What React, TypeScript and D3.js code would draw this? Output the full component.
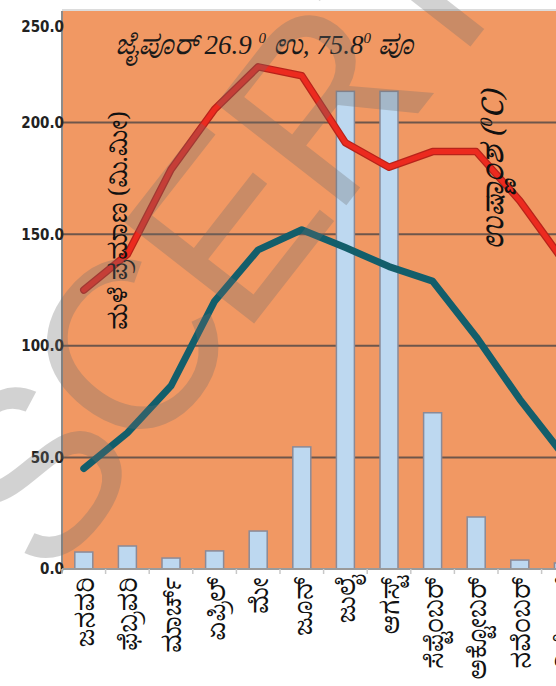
import React, { useRef, useEffect } from 'react';
import * as d3 from 'd3';

const months = [
  'ಜನವರಿ', 'ಫೆಬ್ರವರಿ', 'ಮಾರ್ಚ್', 'ಏಪ್ರಿಲ್', 'ಮೇ', 'ಜೂನ್',
  'ಜುಲೈ', 'ಆಗಸ್ಟ್', 'ಸೆಪ್ಟೆಂಬರ್', 'ಅಕ್ಟೋಬರ್', 'ನವೆಂಬರ್', 'ಡಿಸೆಂಬರ್',
];
const rainfall = [7.6, 10.3, 4.9, 8.1, 17, 54.7, 214, 214, 70, 23.3, 4, 2.7];
const maxTemp = [125, 141, 179, 206, 225, 221, 191, 180, 187, 187, 165, 138];
const minTemp = [45, 61, 82, 120, 143, 152, 144, 135.5, 129, 104, 76, 51];
const yTicks = [0, 50, 100, 150, 200, 250];

const W = 556;
const H = 686;

const App: React.FC = () => {
  const svgRef = useRef<SVGSVGElement>(null);

  useEffect(() => {
    if (!svgRef.current) return;
    const svg = d3.select(svgRef.current);
    svg.selectAll('*').remove();

    const left = 62;
    const top = 11;
    const bottom = 569;
    const right = left + 12 * 43.6;

    const x = d3.scaleBand<string>().domain(months).range([left, right]).padding(0);
    const y = d3.scaleLinear().domain([0, 250]).range([bottom, top]);
    const bw = x.bandwidth();
    const cx = (m: string) => (x(m) || 0) + bw / 2;

    // plot background
    svg.append('rect')
      .attr('x', left).attr('y', top)
      .attr('width', right - left).attr('height', bottom - top)
      .attr('fill', '#f19863');

    svg.append('line')
      .attr('x1', left).attr('x2', right).attr('y1', top - 1).attr('y2', top - 1)
      .attr('stroke', '#dcdcdc').attr('stroke-width', 2);

    // gridlines
    svg.append('g')
      .selectAll('line')
      .data(yTicks.filter(t => t > 0 && t < 250))
      .enter()
      .append('line')
      .attr('x1', left).attr('x2', right)
      .attr('y1', d => y(d)).attr('y2', d => y(d))
      .attr('stroke', '#6e564b').attr('stroke-width', 2);

    // y axis
    svg.append('line')
      .attr('x1', left).attr('x2', left).attr('y1', top).attr('y2', bottom + 4)
      .attr('stroke', '#8c8c8c').attr('stroke-width', 2);

    svg.append('g')
      .selectAll('text')
      .data(yTicks)
      .enter()
      .append('text')
      .attr('x', left + 2)
      .attr('y', d => (d === 250 ? y(d) + 16 : y(d)))
      .attr('dy', '0.36em')
      .attr('text-anchor', 'end')
      .style('font-family', '"DejaVu Sans Condensed", "Liberation Sans Narrow", sans-serif')
      .style('font-weight', 'bold')
      .style('font-size', '15px')
      .style('fill', '#222')
      .text(d => d.toFixed(1));

    // bars
    svg.append('g')
      .selectAll('rect')
      .data(rainfall)
      .enter()
      .append('rect')
      .attr('x', (_, i) => cx(months[i]) - 9)
      .attr('y', d => y(d))
      .attr('width', 18)
      .attr('height', d => bottom - y(d))
      .attr('fill', '#bdd8f0')
      .attr('stroke', '#8a8a98')
      .attr('stroke-width', 1.5);

    // x axis line and ticks
    svg.append('line')
      .attr('x1', left).attr('x2', right).attr('y1', bottom).attr('y2', bottom)
      .attr('stroke', '#9a9a9a').attr('stroke-width', 2);

    svg.append('g')
      .selectAll('line')
      .data(months)
      .enter()
      .append('line')
      .attr('x1', d => x(d) || 0).attr('x2', d => x(d) || 0)
      .attr('y1', bottom).attr('y2', bottom + 5)
      .attr('stroke', '#c8c8c8').attr('stroke-width', 1.5);

    // lines
    const line = d3.line<number>()
      .x((_, i) => cx(months[i]))
      .y(d => y(d));

    svg.append('path')
      .datum(maxTemp)
      .attr('d', line)
      .attr('fill', 'none')
      .attr('stroke', '#b8231a')
      .attr('stroke-width', 7.5)
      .attr('stroke-linejoin', 'round')
      .attr('stroke-linecap', 'round');
    svg.append('path')
      .datum(maxTemp)
      .attr('d', line)
      .attr('fill', 'none')
      .attr('stroke', '#ec2a1f')
      .attr('stroke-width', 5)
      .attr('stroke-linejoin', 'round')
      .attr('stroke-linecap', 'round');

    svg.append('path')
      .datum(minTemp)
      .attr('d', line)
      .attr('fill', 'none')
      .attr('stroke', '#135e6b')
      .attr('stroke-width', 7)
      .attr('stroke-linejoin', 'round')
      .attr('stroke-linecap', 'round');

    // month labels
    svg.append('g')
      .selectAll('text')
      .data(months)
      .enter()
      .append('text')
      .attr('transform', d => `translate(${cx(d) + 10}, ${bottom + 8}) rotate(-90)`)
      .attr('text-anchor', 'end')
      .style('font-family', '"Noto Serif Kannada", "Noto Sans Kannada", serif')
      .style('font-size', '25px')
      .style('fill', '#111')
      .text(d => d);

    // title
    const title = svg.append('text')
      .attr('x', 115)
      .attr('y', 54)
      .style('font-family', '"Liberation Serif", "Noto Serif Kannada", serif')
      .style('font-style', 'italic')
      .style('font-size', '27px')
      .style('fill', '#1a1a1a');
    title.append('tspan').text('ಜೈಪೂರ್ 26.9 ');
    title.append('tspan').attr('dy', -11).style('font-size', '15px').text('0');
    title.append('tspan').attr('dy', 11).text(' ಉ, 75.8');
    title.append('tspan').attr('dy', -11).style('font-size', '15px').text('0');
    title.append('tspan').attr('dy', 11).text('  ಪೂ');

    // axis captions
    svg.append('text')
      .attr('transform', 'translate(127, 330) rotate(-90)')
      .style('font-family', '"Noto Serif Kannada", "Noto Sans Kannada", serif')
      .style('font-size', '25px')
      .style('fill', '#111')
      .text('ಮಳೆ ಪ್ರಮಾಣ (ಮಿ.ಮೀ)');

    const tCap = svg.append('text')
      .attr('transform', 'translate(503, 250) rotate(-90)')
      .style('font-family', '"Noto Serif Kannada", "Noto Sans Kannada", serif')
      .style('font-style', 'italic')
      .style('font-size', '30px')
      .style('fill', '#111');
    tCap.append('tspan').text('ಉಷ್ಣಾಂಶ (');
    tCap.append('tspan').attr('dy', -11).style('font-size', '16px').text('0');
    tCap.append('tspan').attr('dy', 11).text('C)');

    // watermark
    svg.append('text')
      .attr('transform', 'translate(49, 586) rotate(-52)')
      .style('font-family', '"Liberation Sans", Arial, sans-serif')
      .style('font-size', '240px')
      .style('letter-spacing', '-10px')
      .style('fill', '#6e6e6e')
      .style('opacity', 0.3)
      .text('SCERT');
  }, []);

  return (
    <svg ref={svgRef} width={W} height={H} style={{ display: 'block', position: 'absolute', left: 0, top: 0 }} />
  );
};

export default App;
